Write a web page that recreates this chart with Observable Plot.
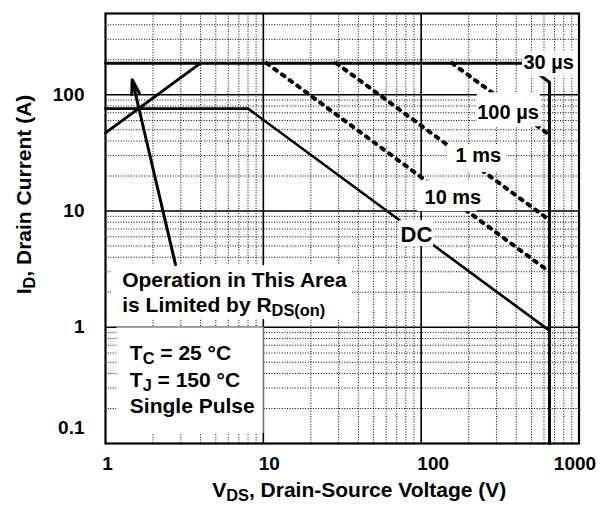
<!DOCTYPE html>
<html><head><meta charset="utf-8">
<script src="https://cdn.jsdelivr.net/npm/d3@7"></script>
<script src="https://cdn.jsdelivr.net/npm/@observablehq/plot@0.6"></script>
<style>html,body{margin:0;padding:0;background:#fff;} svg{display:block;}</style>
</head><body><div id="chart"></div>
<script>
// ---- tick labels / grid ----
const xTicks = [1, 10, 100, 1000];
const yTicks = [1, 10, 100, 500];
const yTickLow = [0.1];
const xMajorGrid = [10, 100];
const yMajorGrid = [1, 10, 100];
const xDecades = [1, 10, 100];
const yDecades = [0.1, 1, 10, 100];
const minorSteps = [2, 3, 4, 5, 6, 7, 8, 9];

// ---- curves (VDS in V, ID in A) ----
const rdsV = [1, 4.0];            const rdsI = [47, 187];
const t30V = [1, 444, 650, 650];  const t30I = [187, 187, 128, 0.1];
const t100V = [157, 650];         const t100I = [187, 45.2];
const t1mV = [29, 650];           const t1mI = [187, 8.35];
const t10mV = [10.5, 650];        const t10mI = [187, 3.0];
const dcV = [1, 8.0, 650];        const dcI = [76, 76, 0.935];

// ---- annotations (data coordinates) ----
const curveLabels = [
  {text: "30 µs", v: 445, i: 166},
  {text: "100 µs", v: 226.5, i: 61.8},
  {text: "1 ms", v: 165, i: 26.2},
  {text: "10 ms", v: 105, i: 11.5}
];
const dcLabel = [{text: "DC", v: 74, i: 5.38}];
const noteLines = [
  {text: "Operation in This Area", v: 1.276, i: 2.214},
  {text: "is Limited by R_{DS(on)}", v: 1.276, i: 1.345}
];
const condLines = [
  {text: "T_{C} = 25 °C", v: 1.426, i: 0.524},
  {text: "T_{J} = 150 °C", v: 1.426, i: 0.307},
  {text: "Single Pulse", v: 1.426, i: 0.182}
];
const arrowData = [{v1: 2.777, i1: 3.457, v2: 1.476, i2: 134.6}];
const maskBoxes = [
  {v1: 438, v2: 1000, i1: 143, i2: 230},
  {v1: 227, v2: 570, i1: 53, i2: 104},
  {v1: 147, v2: 352, i1: 21.4, i2: 37.2},
  {v1: 94.8, v2: 227, i1: 9.87, i2: 18.2},
  {v1: 72.9, v2: 120, i1: 4.94, i2: 8.26},
  {v1: 1.09, v2: 36.7, i1: 1.164, i2: 3.39}
];
const condBox = [{v1: 1.186, v2: 10, i1: 0.122, i2: 1}];
const xTitle = "V_{DS}, Drain-Source Voltage (V)";
const yTitle = "I_{D}, Drain Current (A)";

const pts = (V, I) => V.map((v, k) => ({v, i: I[k]}));
const minorX = xDecades.flatMap(d => minorSteps.map(m => d * m));
const minorY = yDecades.flatMap(d => minorSteps.map(m => d * m)).filter(v => v < 500);

const dotted = {stroke: "#000", strokeWidth: 1, strokeDasharray: "1,1.6"};
const major = {stroke: "#000", strokeWidth: 1.6};
const dashed = {x: "v", y: "i", stroke: "#000", strokeWidth: 4, strokeDasharray: "3,6.5", strokeLinecap: "round"};
const xTickShift = [2, 6, 12, -4];
const tickFont = {fontSize: 19, fontWeight: "bold", tickSize: 0, tickFormat: d => String(d), label: null};

const chart = Plot.plot({
  width: 611, height: 506,
  marginLeft: 105, marginRight: 32.5, marginTop: 13, marginBottom: 63,
  x: {type: "log", domain: [1, 1000]},
  y: {type: "log", domain: [0.1, 500]},
  style: {fontFamily: "'Liberation Sans', Arial, Helvetica, sans-serif", fontWeight: "bold", background: "white", color: "black", overflow: "visible"},
  marks: [
    Plot.ruleX(minorX, dotted),
    Plot.ruleY(minorY, dotted),
    Plot.ruleX(xMajorGrid, major),
    Plot.ruleY(yMajorGrid, major),
    Plot.line(pts(dcV, dcI), {x: "v", y: "i", stroke: "#000", strokeWidth: 2.6}),
    Plot.line(pts(rdsV, rdsI), {x: "v", y: "i", stroke: "#000", strokeWidth: 3}),
    Plot.line(pts(t30V, t30I), {x: "v", y: "i", stroke: "#000", strokeWidth: 3}),
    Plot.line(pts(t100V, t100I), dashed),
    Plot.line(pts(t1mV, t1mI), dashed),
    Plot.line(pts(t10mV, t10mI), dashed),
    Plot.rect(maskBoxes, {x1: "v1", x2: "v2", y1: "i1", y2: "i2", fill: "white"}),
    Plot.rect(condBox, {x1: "v1", x2: "v2", y1: "i1", y2: "i2", fill: "white"}),
    Plot.ruleY(condBox, {y: "i2", x1: "v1", x2: "v2", stroke: "#888", strokeWidth: 1}),
    Plot.ruleX(condBox, {x: "v2", y1: "i1", y2: "i2", stroke: "#888", strokeWidth: 1}),
    Plot.arrow(arrowData, {x1: "v1", y1: "i1", x2: "v2", y2: "i2", stroke: "#000", strokeWidth: 3, headLength: 7.5, headAngle: 30}),
    Plot.text(curveLabels, {x: "v", y: "i", text: "text", textAnchor: "start", lineAnchor: "bottom", fontSize: 20, fontWeight: "bold"}),
    Plot.text(dcLabel, {x: "v", y: "i", text: "text", textAnchor: "start", lineAnchor: "bottom", fontSize: 22, fontWeight: "bold"}),
    Plot.text(noteLines, {x: "v", y: "i", text: "text", textAnchor: "start", lineAnchor: "bottom", fontSize: 21, fontWeight: "bold"}),
    Plot.text(condLines, {x: "v", y: "i", text: "text", textAnchor: "start", lineAnchor: "bottom", fontSize: 21, fontWeight: "bold"}),
    Plot.text([yTitle], {text: d => d, frameAnchor: "left", dx: -75, dy: -34, rotate: -90, textAnchor: "middle", lineAnchor: "bottom", fontSize: 21, fontWeight: "bold"}),
    Plot.text([xTitle], {text: d => d, frameAnchor: "bottom", dx: 17, dy: 53, textAnchor: "middle", lineAnchor: "bottom", fontSize: 21, fontWeight: "bold"}),
    ...xTicks.map((t, k) => Plot.axisX([t], {...tickFont, tickPadding: 13, dx: xTickShift[k]})),
    Plot.axisY(yTicks, {...tickFont, tickPadding: 21}),
    Plot.axisY(yTickLow, {...tickFont, tickPadding: 21, dy: -16}),
    Plot.frame({stroke: "#000", strokeWidth: 2.2})
  ]
});

function applySubscripts(svg) {
  const NS = "http://www.w3.org/2000/svg";
  const walker = document.createTreeWalker(svg, NodeFilter.SHOW_TEXT);
  const nodes = [];
  while (walker.nextNode()) if (walker.currentNode.nodeValue.includes("_{")) nodes.push(walker.currentNode);
  for (const node of nodes) {
    const parent = node.parentNode;
    const parts = node.nodeValue.split(/_\{([^}]*)\}/);
    let shifted = false;
    parts.forEach((p, k) => {
      const isSub = k % 2 === 1;
      if (p === "") return;
      const t = document.createElementNS(NS, "tspan");
      t.textContent = p;
      if (isSub) {
        t.setAttribute("font-size", "0.78em");
        t.setAttribute("dy", "4");
        shifted = true;
      } else if (shifted) {
        t.setAttribute("dy", "-4");
        shifted = false;
      }
      parent.insertBefore(t, node);
    });
    parent.removeChild(node);
  }
}
applySubscripts(chart);
document.getElementById("chart").appendChild(chart);
</script>
</body></html>
